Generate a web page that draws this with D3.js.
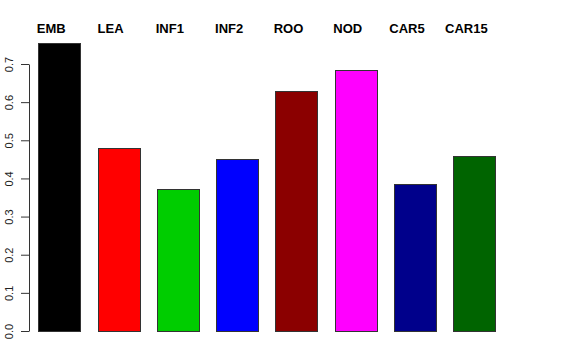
<!DOCTYPE html>
<html>
  <head>
    <meta charset="utf-8" />
    <script src="https://d3js.org/d3.v7.min.js"></script>
    <title>Bar chart</title>
    <style>
      body { margin: 0; background: #fff; }
      .label { font-family: "Liberation Sans", Arial, sans-serif; font-weight: bold; font-size: 13px; }
      .axis text { font-family: "Liberation Sans", Arial, sans-serif; font-size: 11px; fill: #222; }
      .axis path, .axis line { stroke: #333; }
      .bar { stroke: #333; stroke-width: 1px; }
    </style>
  </head>
  <body>

    <svg id="chart" width="576" height="360"></svg>

    <script>

      var categories = ["EMB", "LEA", "INF1", "INF2", "ROO", "NOD", "CAR5", "CAR15"];
      var values = [0.756, 0.480, 0.372, 0.451, 0.629, 0.684, 0.385, 0.460];
      var colors = ["#000000", "#FF0000", "#00CD00", "#0000FF", "#8B0000", "#FF00FF", "#00008B", "#006400"];
      var yTicks = [0, 0.1, 0.2, 0.3, 0.4, 0.5, 0.6, 0.7];

      var svg = d3.select("#chart");

      var x = d3.scaleBand()
        .domain(categories)
        .range([29.6, 504])
        .paddingInner(0.292)
        .paddingOuter(0.146);

      var y = d3.scaleLinear()
        .domain([0, 0.7])
        .range([331, 64]);

      // bars
      svg.selectAll(".bar")
        .data(values)
        .enter().append("rect")
        .attr("class", "bar")
        .attr("x", function(d, i) { return Math.round(x(categories[i])) + 0.5; })
        .attr("y", function(d) { return Math.round(y(d)) + 0.5; })
        .attr("width", Math.round(x.bandwidth()))
        .attr("height", function(d) { return Math.round(y(0)) - Math.round(y(d)); })
        .attr("fill", function(d, i) { return colors[i]; });

      // labels on top
      svg.selectAll(".label")
        .data(categories)
        .enter().append("text")
        .attr("class", "label")
        .attr("x", function(d) { return x(d) + x.bandwidth() / 2 - 8; })
        .attr("y", 33)
        .attr("text-anchor", "middle")
        .text(function(d) { return d; });

      // y axis
      var axis = svg.append("g")
        .attr("class", "axis")
        .attr("transform", "translate(29,0)")
        .call(d3.axisLeft(y)
          .tickValues(yTicks)
          .tickFormat(d3.format(".1f"))
          .tickSize(8)
          .tickSizeOuter(0));

      axis.selectAll(".tick text")
        .attr("transform", "rotate(-90)")
        .attr("x", 0)
        .attr("y", -16)
        .attr("dy", 0)
        .attr("text-anchor", "middle");

    </script>

  </body>
</html>
